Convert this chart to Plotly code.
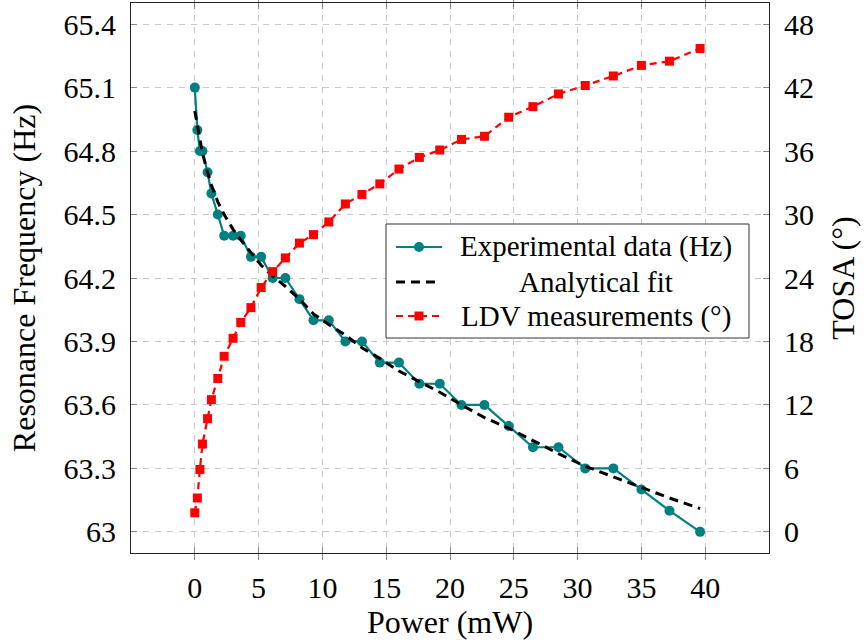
import plotly.graph_objects as go

# Optical power applied (mW), shared by all three series
power_mw = [0, 0.2, 0.4, 0.6, 1.0, 1.3, 1.8, 2.3, 3.0, 3.6, 4.4, 5.2, 6.1, 7.1,
            8.2, 9.3, 10.5, 11.8, 13.1, 14.5, 16.0, 17.6, 19.2, 20.9, 22.7,
            24.6, 26.5, 28.5, 30.6, 32.8, 35.0, 37.2, 39.6]

# Measured resonance frequency (Hz)
freq_hz = [65.1, 64.9, 64.8, 64.8, 64.7, 64.6, 64.5, 64.4, 64.4, 64.4, 64.3,
           64.3, 64.2, 64.2, 64.1, 64.0, 64.0, 63.9, 63.9, 63.8, 63.8, 63.7,
           63.7, 63.6, 63.6, 63.5, 63.4, 63.4, 63.3, 63.3, 63.2, 63.1, 63.0]

# Analytical model evaluated at the same powers (Hz)
fit_hz = [64.99, 64.92, 64.85, 64.79, 64.70, 64.64, 64.56, 64.50, 64.43,
          64.38, 64.32, 64.26, 64.21, 64.16, 64.10, 64.03, 63.98, 63.93,
          63.87, 63.82, 63.76, 63.71, 63.66, 63.60, 63.54, 63.49, 63.43,
          63.37, 63.31, 63.26, 63.21, 63.16, 63.11]

# Tip angle from LDV (degrees)
tosa_deg = [1.8, 3.2, 5.9, 8.3, 10.7, 12.5, 14.5, 16.6, 18.3, 19.8, 21.2,
            23.1, 24.6, 25.9, 27.3, 28.1, 29.3, 31.0, 31.9, 32.9, 34.3, 35.4,
            36.1, 37.1, 37.4, 39.2, 40.2, 41.4, 42.2, 43.1, 44.1, 44.5, 45.7]

x_ticks = [0, 5, 10, 15, 20, 25, 30, 35, 40]
freq_ticks = [63, 63.3, 63.6, 63.9, 64.2, 64.5, 64.8, 65.1, 65.4]
freq_tick_text = ["63", "63.3", "63.6", "63.9", "64.2", "64.5", "64.8", "65.1", "65.4"]
tosa_ticks = [0, 6, 12, 18, 24, 30, 36, 42, 48]

series_names = ["Experimental data (Hz)", "Analytical fit", "LDV measurements (°)"]

FONT = "'Liberation Serif', 'Times New Roman', 'DejaVu Serif', serif"
FS_TICK = 30
FS_TITLE = 32
FS_LEGEND = 29

TEAL = "#008080"
RED = "#ff0000"

W, H = 867, 644
M_L, M_R, M_T, M_B = 131, 98, 3, 91
PW, PH = W - M_L - M_R, H - M_T - M_B


def px(x):
    """Horizontal pixel position -> paper fraction."""
    return (x - M_L) / PW


def py(y):
    """Vertical pixel position (from top) -> paper fraction."""
    return (H - M_B - y) / PH


fig = go.Figure()

fig.add_trace(go.Scatter(
    x=power_mw, y=freq_hz, mode="lines+markers", name=series_names[0],
    line=dict(color=TEAL, width=2.2),
    marker=dict(symbol="circle", size=10, color=TEAL),
))

fig.add_trace(go.Scatter(
    x=power_mw, y=fit_hz, mode="lines", name=series_names[1],
    line=dict(color="black", width=3, dash="9px,6px"),
))

fig.add_trace(go.Scatter(
    x=power_mw, y=tosa_deg, mode="lines+markers", yaxis="y2", name=series_names[2],
    line=dict(color=RED, width=2.2, dash="7px,5px"),
    marker=dict(symbol="square", size=9, color=RED),
))

# Legend box drawn by hand so the entries are centred as in a pgfplots legend
box_l, box_r, box_t, box_b = 386, 749, 224, 338
row_y = [247, 282, 316]
samp_l, samp_r, samp_c = 396, 442, 419
text_c = 596

shapes = [dict(type="rect", xref="paper", yref="paper", layer="above",
               x0=px(box_l), x1=px(box_r), y0=py(box_b), y1=py(box_t),
               line=dict(color="#333", width=1), fillcolor="white")]
shapes.append(dict(type="line", xref="paper", yref="paper", layer="above",
                   x0=px(samp_l), x1=px(samp_r), y0=py(row_y[0]), y1=py(row_y[0]),
                   line=dict(color=TEAL, width=2.2)))
shapes.append(dict(type="circle", xref="paper", yref="paper", layer="above",
                   x0=px(samp_c - 5), x1=px(samp_c + 5),
                   y0=py(row_y[0] + 5), y1=py(row_y[0] - 5),
                   line=dict(color=TEAL, width=0), fillcolor=TEAL))
shapes.append(dict(type="line", xref="paper", yref="paper", layer="above",
                   x0=px(samp_l), x1=px(samp_r - 6), y0=py(row_y[1]), y1=py(row_y[1]),
                   line=dict(color="black", width=3, dash="9px,6px")))
shapes.append(dict(type="line", xref="paper", yref="paper", layer="above",
                   x0=px(samp_l), x1=px(samp_r), y0=py(row_y[2]), y1=py(row_y[2]),
                   line=dict(color=RED, width=2.2, dash="7px,5px")))
shapes.append(dict(type="rect", xref="paper", yref="paper", layer="above",
                   x0=px(samp_c - 4.5), x1=px(samp_c + 4.5),
                   y0=py(row_y[2] + 4.5), y1=py(row_y[2] - 4.5),
                   line=dict(color=RED, width=0), fillcolor=RED))

annotations = [dict(xref="paper", yref="paper", x=px(text_c), y=py(yy),
                    xanchor="center", yanchor="middle", showarrow=False,
                    text=name, font=dict(family=FONT, size=FS_LEGEND, color="black"))
               for name, yy in zip(series_names, row_y)]

axis_common = dict(
    showline=True, linecolor="#222", linewidth=1,
    ticks="inside", ticklen=6, tickcolor="#888", tickwidth=1,
    tickfont=dict(family=FONT, size=FS_TICK, color="black"),
    zeroline=False, ticklabelstandoff=8,
)

fig.update_layout(
    width=W, height=H,
    margin=dict(l=M_L, r=M_R, t=M_T, b=M_B),
    paper_bgcolor="white", plot_bgcolor="white",
    font=dict(family=FONT, size=FS_TICK, color="black"),
    showlegend=False,
    shapes=shapes,
    annotations=annotations,
    xaxis=dict(
        range=[-5, 45], tickvals=x_ticks, mirror="allticks",
        showgrid=True, gridcolor="#c8c8c8", griddash="6px,6px", gridwidth=1,
        title=dict(text="Power (mW)", font=dict(family=FONT, size=FS_TITLE), standoff=5),
        **axis_common,
    ),
    yaxis=dict(
        range=[62.9, 65.5], tickvals=freq_ticks, ticktext=freq_tick_text,
        showgrid=True, gridcolor="#c8c8c8", griddash="6px,6px", gridwidth=1,
        title=dict(text="Resonance Frequency (Hz)", font=dict(family=FONT, size=FS_TITLE), standoff=18),
        **axis_common,
    ),
    yaxis2=dict(
        range=[-2, 50], tickvals=tosa_ticks, overlaying="y", side="right",
        showgrid=False,
        title=dict(text="TOSA (°)", font=dict(family=FONT, size=FS_TITLE), standoff=18),
        **axis_common,
    ),
)

fig.write_html("out.html")
